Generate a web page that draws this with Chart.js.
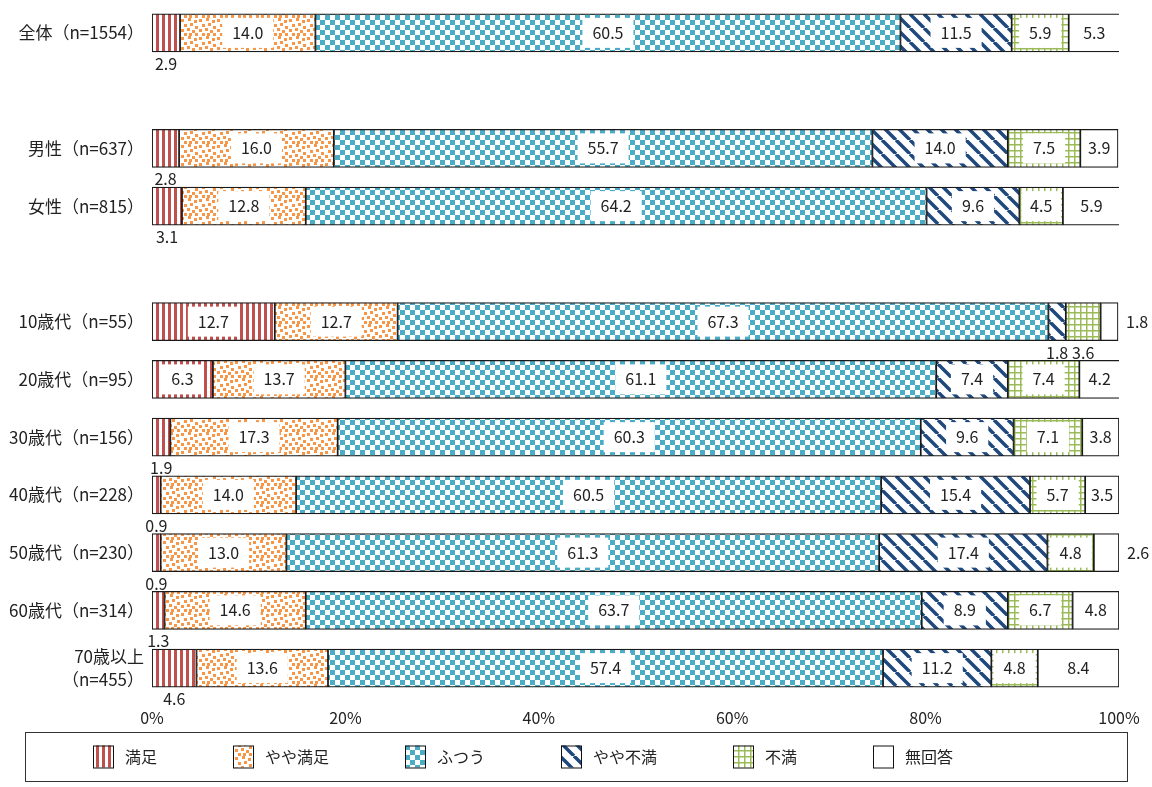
<!DOCTYPE html>
<html lang="ja">
<head>
<meta charset="utf-8">
<title>満足度</title>
<script src="https://cdn.jsdelivr.net/npm/chart.js@4.4.1/dist/chart.umd.min.js"></script>
<style>
  html, body { margin: 0; padding: 0; background: #fff; }
  #wrap { width: 1152px; height: 787px; position: relative; }
</style>
</head>
<body>
<div id="wrap"><canvas id="satisfactionChart"></canvas></div>
<script>
// 回答者の属性（空文字は区切り用の空行）
const categories = [
    '全体（n=1554）', '',
    '男性（n=637）', '女性（n=815）', '',
    '10歳代（n=55）', '20歳代（n=95）', '30歳代（n=156）', '40歳代（n=228）',
    '50歳代（n=230）', '60歳代（n=314）', ['70歳以上', '（n=455）']
];
const seriesNames = ['満足', 'やや満足', 'ふつう', 'やや不満', '不満', '無回答'];

// 各回答の割合（%）
const manzoku     = [2.9, null, 2.8, 3.1, null, 12.7, 6.3, 1.9, 0.9, 0.9, 1.3, 4.6];
const yayaManzoku = [14.0, null, 16.0, 12.8, null, 12.7, 13.7, 17.3, 14.0, 13.0, 14.6, 13.6];
const futsuu      = [60.5, null, 55.7, 64.2, null, 67.3, 61.1, 60.3, 60.5, 61.3, 63.7, 57.4];
const yayaFuman   = [11.5, null, 14.0, 9.6, null, 1.8, 7.4, 9.6, 15.4, 17.4, 8.9, 11.2];
const fuman       = [5.9, null, 7.5, 4.5, null, 3.6, 7.4, 7.1, 5.7, 4.8, 6.7, 4.8];
const mukaitou    = [5.3, null, 3.9, 5.9, null, 1.8, 4.2, 3.8, 3.5, 2.6, 4.8, 8.4];

const xTicks = [0, 20, 40, 60, 80, 100];

const FONT = "'Noto Sans CJK JP', 'Noto Sans', sans-serif";
Chart.defaults.font.family = FONT;

// 塗りつぶし用のパターン
function makePattern(w, h, draw) {
    const c = document.createElement('canvas');
    c.width = w;
    c.height = h;
    const g = c.getContext('2d');
    g.fillStyle = '#fff';
    g.fillRect(0, 0, w, h);
    draw(g);
    return g.createPattern(c, 'repeat');
}

const stripePattern = makePattern(6, 6, g => {
    g.fillStyle = '#c0504d';
    g.fillRect(0, 0, 3, 6);
});

const dotPattern = makePattern(18, 18, g => {
    g.fillStyle = '#f79646';
    [[1, 1], [8, 0], [14, 2], [4, 6], [10, 5], [15, 8],
     [1, 11], [7, 10], [12, 12], [4, 15], [9, 15], [15, 15]]
        .forEach(p => g.fillRect(p[0], p[1], 3, 3));
});

const checkerPattern = makePattern(10, 10, g => {
    g.fillStyle = '#4bacc6';
    g.fillRect(0, 0, 5, 5);
    g.fillRect(5, 5, 5, 5);
});

const diagPattern = makePattern(14, 14, g => {
    g.strokeStyle = '#1f497d';
    g.lineWidth = 3.5;
    g.beginPath();
    [-14, 0, 14].forEach(k => {
        g.moveTo(k, 0);
        g.lineTo(k + 14, 14);
    });
    g.stroke();
});

const gridPattern = makePattern(6, 6, g => {
    g.fillStyle = '#9bbb59';
    g.fillRect(0, 0, 6, 1.5);
    g.fillRect(0, 0, 1.5, 6);
});

const fills = [stripePattern, dotPattern, checkerPattern, diagPattern, gridPattern, '#ffffff'];
const seriesData = [manzoku, yayaManzoku, futsuu, yayaFuman, fuman, mukaitou];

// 数値ラベル：小さい値はバーの下、無回答の小さい値はバーの右
const valueLabels = {
    id: 'valueLabels',
    afterDatasetsDraw(chart) {
        const ctx = chart.ctx;
        const last = chart.data.datasets.length - 1;
        ctx.save();
        ctx.font = '16px ' + FONT;
        ctx.textBaseline = 'middle';
        chart.data.datasets.forEach((ds, di) => {
            const meta = chart.getDatasetMeta(di);
            meta.data.forEach((bar, i) => {
                const v = ds.data[i];
                if (v == null) return;
                const txt = v.toFixed(1);
                const left = Math.min(bar.x, bar.base);
                const right = Math.max(bar.x, bar.base);
                const cx = (left + right) / 2;
                const h = bar.height;
                ctx.fillStyle = '#222';
                if (di === last) {
                    ctx.textAlign = v < 3 ? 'left' : 'center';
                    ctx.fillText(txt, v < 3 ? right + 8 : cx, bar.y);
                } else if (v < (di === 0 ? 5 : 4)) {
                    ctx.textAlign = 'center';
                    ctx.fillText(txt, cx, bar.y + h / 2 + 12);
                } else {
                    const tw = ctx.measureText(txt).width;
                    const bw = Math.min(tw + 20, right - left - 4);
                    ctx.fillStyle = '#fff';
                    ctx.fillRect(cx - bw / 2, bar.y - h / 2 + 4, bw, h - 8);
                    ctx.fillStyle = '#222';
                    ctx.textAlign = 'center';
                    ctx.fillText(txt, cx, bar.y);
                }
            });
        });
        ctx.restore();
    }
};

// 枠付きの凡例
const boxedLegend = {
    id: 'boxedLegend',
    afterDraw(chart) {
        const ctx = chart.ctx;
        const top = chart.chartArea.bottom + 35;
        const bottom = chart.height - 6;
        const cy = (top + bottom) / 2;
        ctx.save();
        ctx.strokeStyle = '#333';
        ctx.lineWidth = 1;
        ctx.strokeRect(25.5, top + 0.5, chart.width - 50, bottom - top);
        ctx.font = '16px ' + FONT;
        ctx.textBaseline = 'middle';
        ctx.textAlign = 'left';
        let x = 93;
        chart.data.datasets.forEach(ds => {
            ctx.fillStyle = ds.backgroundColor;
            ctx.fillRect(x, cy - 11, 20, 22);
            ctx.strokeStyle = '#111';
            ctx.strokeRect(x + 0.5, cy - 10.5, 20, 22);
            ctx.fillStyle = '#222';
            ctx.fillText(ds.label, x + 32, cy);
            x += 32 + ctx.measureText(ds.label).width + 76;
        });
        ctx.restore();
    }
};

new Chart(document.getElementById('satisfactionChart').getContext('2d'), {
    type: 'bar',
    data: {
        labels: categories,
        datasets: seriesNames.map((name, i) => ({
            label: name,
            data: seriesData[i],
            backgroundColor: fills[i],
            borderColor: '#1a1a1a',
            borderWidth: 1.2,
            borderSkipped: false,
            barThickness: 38
        }))
    },
    options: {
        indexAxis: 'y',
        responsive: true,
        maintainAspectRatio: false,
        animation: false,
        layout: {
            padding: { top: 4, right: 33, bottom: 50, left: 0 }
        },
        plugins: {
            legend: { display: false },
            tooltip: { enabled: false }
        },
        scales: {
            x: {
                stacked: true,
                min: 0,
                max: 100,
                afterBuildTicks: scale => {
                    scale.ticks = xTicks.map(v => ({ value: v }));
                },
                afterFit: scale => { scale.height = 40; },
                grid: { display: false, drawTicks: false },
                border: { display: false },
                ticks: {
                    padding: 11,
                    color: '#222',
                    font: { size: 16 },
                    callback: v => v + '%'
                }
            },
            y: {
                stacked: true,
                afterFit: scale => {
                    scale.width = 152;
                    scale.paddingTop = 0;
                    scale.paddingBottom = 0;
                },
                grid: { display: false, drawTicks: false },
                border: { display: false },
                ticks: {
                    padding: 8,
                    color: '#222',
                    font: { size: 17, lineHeight: 1.35 }
                }
            }
        }
    },
    plugins: [valueLabels, boxedLegend]
});
</script>
</body>
</html>
